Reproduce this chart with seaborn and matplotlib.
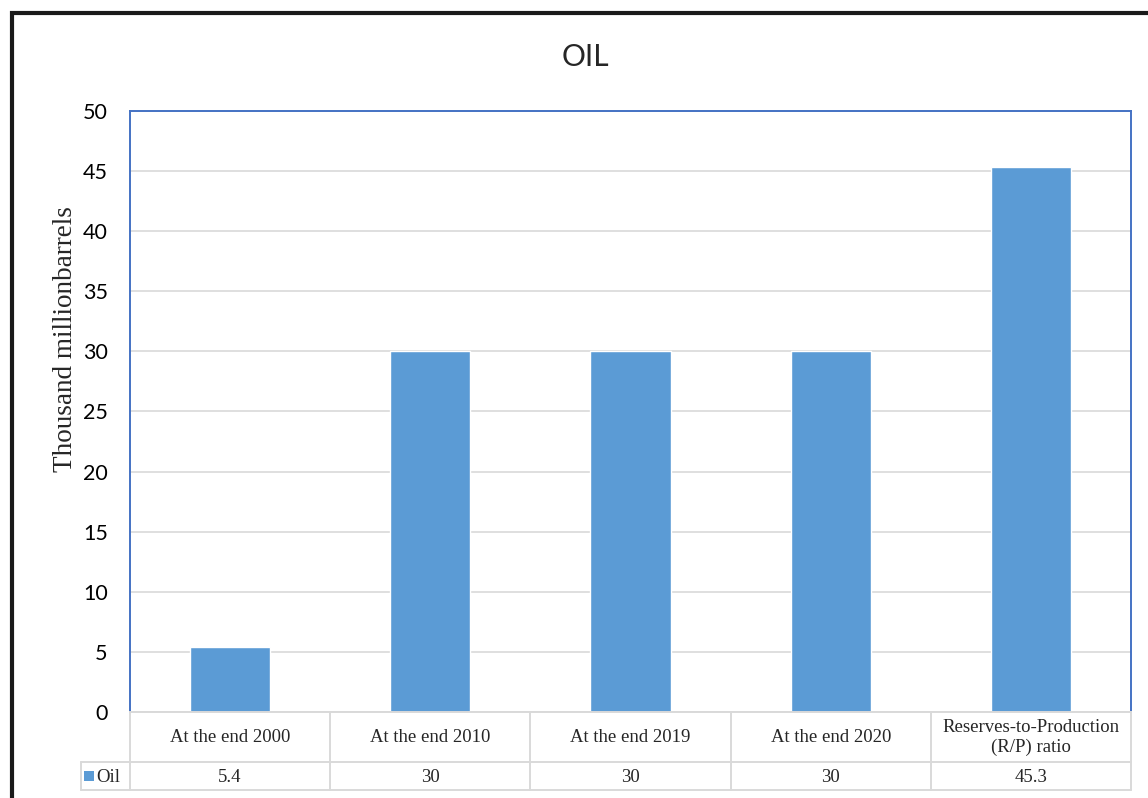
import matplotlib
matplotlib.use("Agg")
import matplotlib.pyplot as plt
import matplotlib.transforms as mtransforms
from matplotlib.lines import Line2D
from matplotlib.patches import Rectangle
import seaborn as sns
import pandas as pd

categories = ["At the end 2000", "At the end 2010", "At the end 2019",
              "At the end 2020", "Reserves-to-Production\n(R/P) ratio"]
values = [5.4, 30, 30, 30, 45.3]
value_labels = ["5.4", "30", "30", "30", "45.3"]
series_name = "Oil"
yticks = [0, 5, 10, 15, 20, 25, 30, 35, 40, 45, 50]

BAR = "#5B9BD5"
SPINE = "#4472C4"
GRID = "#D9D9D9"

sns.set_theme(style="white")
plt.rcParams["font.family"] = ["Lato", "DejaVu Sans"]

W, H = 1148, 798
fig = plt.figure(figsize=(W / 100, H / 100), dpi=100)

def fx(x):
    return x / W

def fy(y):
    return 1 - y / H

# plot area
L, R, T, B = 130, 1131, 111, 712
ax = fig.add_axes([fx(L), fy(B), fx(R - L), (B - T) / H])

df = pd.DataFrame({"cat": categories, "val": values})
sns.barplot(data=df, x="cat", y="val", color=BAR, saturation=1, width=0.4, ax=ax)

ax.set_xlim(-0.5, len(categories) - 0.5)
ax.set_ylim(0, 50)
ax.set_yticks(yticks)
ax.set_yticklabels([str(t) for t in yticks], fontsize=15.5, color="black")
ax.tick_params(axis="y", length=0, pad=16)
ax.set_xticks([])
ax.set_xlabel("")
ax.set_ylabel("")
ax.yaxis.grid(True, color=GRID, linewidth=1.2)
ax.set_axisbelow(True)
for side in ["left", "top", "right"]:
    ax.spines[side].set_color(SPINE)
    ax.spines[side].set_linewidth(1.4)
ax.spines["bottom"].set_color(GRID)
ax.spines["bottom"].set_linewidth(1.4)

# title and axis label
fig.text(fx(585), fy(57), "OIL", ha="center", va="center", fontsize=21.5)
fig.text(fx(66), fy(339), "Thousand millionbarrels", rotation=90,
         ha="center", va="center", fontsize=19.5, family="Liberation Serif")

# data table under the axis
bt = mtransforms.blended_transform_factory(ax.transData, fig.transFigure)
row1_bot, row2_bot, leg_left = 762, 790, 81
xe = [i - 0.5 for i in range(len(categories) + 1)]
tbl_kw = dict(color=GRID, linewidth=1.4, zorder=1)
# horizontal rules
fig.add_artist(Line2D([xe[0], xe[-1]], [fy(row1_bot), fy(row1_bot)], transform=bt, **tbl_kw))
fig.add_artist(Line2D([xe[0], xe[-1]], [fy(row2_bot), fy(row2_bot)], transform=bt, **tbl_kw))
fig.add_artist(Line2D([fx(leg_left), fx(L)], [fy(row1_bot), fy(row1_bot)],
                      transform=fig.transFigure, **tbl_kw))
fig.add_artist(Line2D([fx(leg_left), fx(L)], [fy(row2_bot), fy(row2_bot)],
                      transform=fig.transFigure, **tbl_kw))
fig.add_artist(Line2D([fx(leg_left), fx(leg_left)], [fy(row1_bot), fy(row2_bot)],
                      transform=fig.transFigure, **tbl_kw))
# vertical rules
for x in xe:
    fig.add_artist(Line2D([x, x], [fy(B), fy(row2_bot)], transform=bt, **tbl_kw))

for i, (c, v) in enumerate(zip(categories, value_labels)):
    fig.text(i, fy((B + row1_bot) / 2 + 0.5), c, transform=bt, ha="center", va="center",
             fontsize=13.5, family="Liberation Serif", linespacing=1.15)
    fig.text(i, fy((row1_bot + row2_bot) / 2 + 1), v, transform=bt, ha="center", va="center",
             fontsize=13.5, family="Liberation Serif")

# legend key in the table
fig.add_artist(Rectangle((fx(84), fy(781)), fx(10), 10 / H, transform=fig.transFigure,
                         facecolor=BAR, edgecolor="none"))
fig.text(fx(96), fy(777), series_name, ha="left", va="center",
         fontsize=13.5, family="Liberation Serif")

# outer frame
fig.add_artist(Rectangle((fx(12), fy(H + 20)), fx(W + 40), (H + 20 - 13) / H,
                         transform=fig.transFigure, facecolor="none",
                         edgecolor="#1a1a1a", linewidth=3, clip_on=False))

fig.savefig("out.png", dpi=100)
